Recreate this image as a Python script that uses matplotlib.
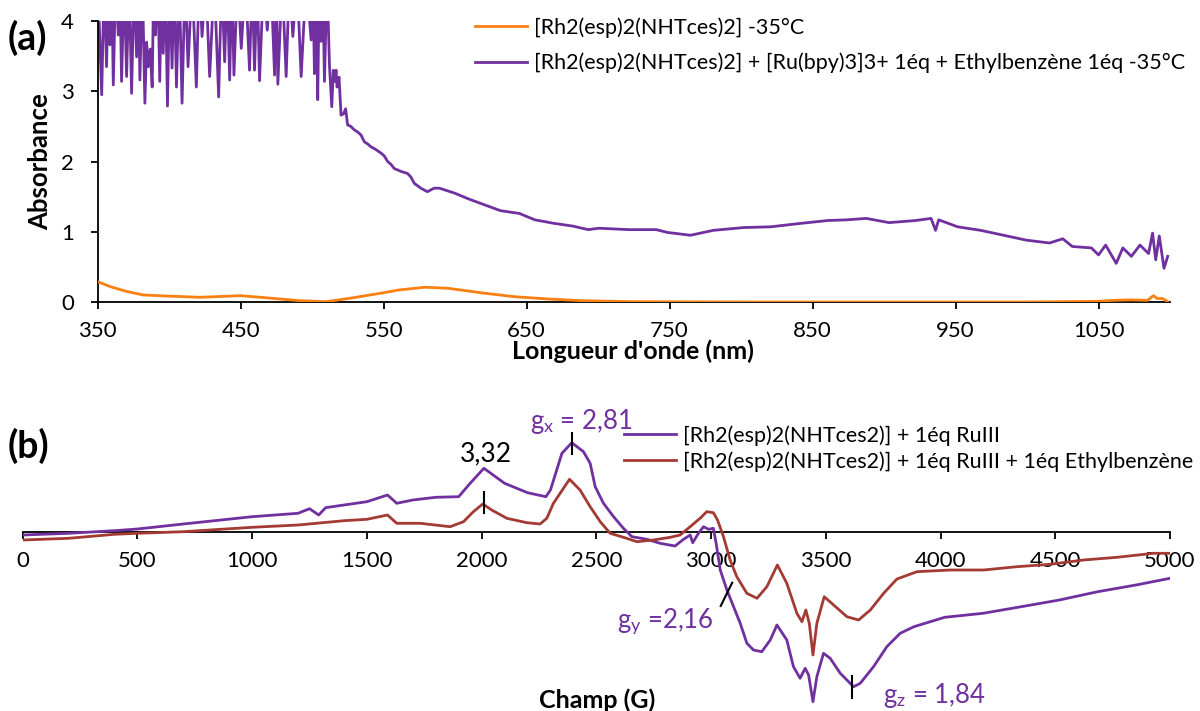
import matplotlib
matplotlib.use("Agg")
import matplotlib.pyplot as plt

plt.rcParams['font.family'] = ['Lato', 'DejaVu Sans']
plt.rcParams['mathtext.fontset'] = 'custom'
plt.rcParams['mathtext.rm'] = 'Lato'
plt.rcParams['mathtext.it'] = 'Lato:italic'

# --- (a) UV-vis : Rh2 seul, -35°C ---
uv_nm_rh = [350, 358.6, 370.2, 381.9, 398.1, 421.4, 450, 467.9, 491.2, 509.8, 526.1,
            549.4, 560.3, 578.9, 595.2, 618.5, 641.7, 665, 688.3, 723.2, 800, 900,
            1000, 1049.4, 1061, 1072.6, 1084.3, 1088.4, 1091, 1094.7, 1098.2]
uv_abs_rh = [0.29, 0.22, 0.15, 0.10, 0.085, 0.067, 0.09, 0.06, 0.019, 0.005, 0.052,
             0.13, 0.17, 0.21, 0.195, 0.13, 0.075, 0.043, 0.019, 0.005, 0.0, 0.0,
             0.0, 0.01, 0.024, 0.03, 0.024, 0.09, 0.05, 0.05, 0.01]

# --- (a) UV-vis : + [Ru(bpy)3]3+ + ethylbenzène ---
uv_nm_ru = [350, 352.8, 354.5, 356.2, 357.4, 358.6, 359.8, 360.9, 362.6, 364.4, 365.5,
            366.7, 368.5, 370.2, 372.0, 373.7, 375.5, 377.2, 378.4, 379.5, 381.2,
            383.0, 384.2, 385.3, 386.7, 388.1, 389.2, 390.4, 392.0, 393.4, 394.6,
            395.8, 397.3, 398.8, 400.4, 402.0, 403.5, 405.1, 407.0, 409.0, 411.1,
            413.2, 416.0, 419.0, 421.0, 423.0, 425.6, 428.3, 431.5, 434.6, 436.7,
            438.8, 440.5, 442.3, 443.8, 445.3, 447.8, 450.4, 453.3, 456.2, 458.0,
            459.7, 461.5, 463.2, 466.0, 468.6, 471.2, 473.7, 474.9, 476.0, 479.0,
            481.8, 484.1, 486.5, 489.4, 492.3, 495.8, 499.3, 500.5, 501.6, 502.8,
            503.9, 505.0, 506.2, 507.4, 508.6, 510.4, 512.1, 513.7, 514.8, 516.0,
            516.7, 517.4, 518.8, 520.2, 522.0, 523.4, 524.8, 527.0, 529.5, 531.8,
            534.1, 536.5, 538.8, 541.1, 544.6, 548.1, 550.4, 552.8, 555.1, 557.4,
            562.0, 566.7, 569.0, 571.4, 576.0, 580.6, 585.3, 589.0, 599.6, 610.3,
            621.0, 631.7, 645.0, 655.7, 669.0, 682.4, 693.1, 700.5, 721.9, 740.6,
            748.6, 764.6, 780.6, 802.0, 820.7, 842.0, 860.8, 874.1, 887.5, 903.5,
            922.2, 932.9, 936.0, 938.2, 951.5, 967.6, 983.6, 999.6, 1015.7, 1025.0,
            1031.7, 1045.0, 1050.0, 1055.0, 1062.4, 1067.0, 1073.0, 1079.0, 1085.0,
            1087.8, 1090.0, 1092.5, 1095.8, 1098.4]
uv_abs_ru = [4.6, 2.95, 4.6, 3.35, 4.6, 3.66, 4.6, 3.09, 4.6, 3.80, 4.6,
             3.14, 4.6, 3.21, 4.6, 2.97, 4.6, 3.49, 4.6, 3.16, 4.6,
             2.83, 3.7, 3.35, 3.6, 3.06, 4.6, 3.80, 4.6, 3.14, 4.6,
             3.54, 4.6, 2.79, 4.6, 3.33, 4.6, 3.06, 4.6, 2.83, 4.6,
             3.35, 4.6, 3.06, 4.6, 3.78, 4.6, 3.21, 4.6, 2.92, 4.6,
             3.42, 4.6, 3.16, 4.6, 3.23, 4.6, 3.61, 4.6, 3.30, 4.6,
             3.30, 4.6, 3.15, 4.6, 3.87, 4.6, 3.23, 4.6, 3.10, 4.6,
             3.21, 4.6, 3.78, 4.6, 3.21, 4.6, 3.73, 4.6, 3.25, 4.6,
             2.88, 4.6, 3.71, 4.6, 3.14, 4.6, 3.37, 2.78, 3.30, 3.14,
             3.30, 3.06, 3.20, 2.66, 2.68, 2.75, 2.52, 2.50, 2.45, 2.42,
             2.38, 2.28, 2.25, 2.21, 2.17, 2.12, 2.08, 2.00, 1.96, 1.90,
             1.86, 1.83, 1.78, 1.69, 1.62, 1.57, 1.62, 1.62, 1.55, 1.46,
             1.38, 1.30, 1.26, 1.17, 1.12, 1.08, 1.03, 1.05, 1.03, 1.03,
             0.99, 0.95, 1.02, 1.06, 1.07, 1.12, 1.16, 1.17, 1.19, 1.13,
             1.16, 1.19, 1.02, 1.17, 1.07, 1.02, 0.95, 0.88, 0.84, 0.90,
             0.79, 0.77, 0.67, 0.81, 0.55, 0.77, 0.65, 0.81, 0.69,
             0.98, 0.60, 0.94, 0.48, 0.65]

# --- (b) RPE : Rh2 + 1éq RuIII ---
epr_G_ru = [0, 200, 400, 500, 700, 1000, 1200, 1250, 1290, 1320, 1400, 1500, 1590,
            1630, 1700, 1800, 1900, 1950, 2010, 2100, 2200, 2280, 2300, 2350, 2393,
            2444, 2473, 2495, 2531, 2575, 2618, 2655, 2720, 2778, 2843, 2880, 2909,
            2920, 2945, 2967, 2989, 3010, 3022, 3040, 3069, 3098, 3127, 3156, 3185,
            3221, 3258, 3287, 3330, 3359, 3388, 3410, 3425, 3444, 3461, 3490, 3519,
            3563, 3621, 3650, 3708, 3766, 3824, 3884, 4018, 4185, 4352, 4518, 4685,
            4852, 5000]
epr_I_ru = [-0.33, -0.16, 0.1, 0.27, 0.77, 1.5, 1.84, 2.3, 1.67, 2.4, 2.67, 3.0, 3.67,
            2.84, 3.17, 3.44, 3.5, 4.84, 6.34, 4.84, 3.9, 3.5, 4.17, 7.84, 8.9,
            8.0, 6.84, 4.5, 2.84, 1.5, 0.34, -0.5, -0.76, -1.16, -1.43, -0.76, -0.33,
            -1.1, -0.16, 0.5, 0.24, 0.34, -1.16, -3.83, -5.83, -7.5, -9.16, -11.16, -11.83,
            -12.0, -10.83, -9.33, -10.83, -13.5, -14.66, -13.66, -14.33, -17.0, -14.5, -12.16, -12.66,
            -14.16, -15.5, -15.16, -13.5, -11.5, -10.16, -9.5, -8.56, -8.16, -7.5, -6.83, -6.0,
            -5.33, -4.66]

# --- (b) RPE : Rh2 + 1éq RuIII + 1éq éthylbenzène ---
epr_G_eb = [0, 200, 400, 500, 700, 1000, 1200, 1400, 1500, 1590, 1630, 1732, 1863,
            1921, 1964, 2005, 2044, 2110, 2197, 2255, 2284, 2313, 2383, 2429, 2473,
            2517, 2560, 2618, 2677, 2749, 2822, 2865, 2909, 2952, 2981, 3010, 3028,
            3054, 3083, 3112, 3156, 3200, 3243, 3289, 3330, 3374, 3396, 3413, 3428,
            3444, 3461, 3493, 3534, 3592, 3643, 3694, 3752, 3810, 3897, 4042, 4188,
            4333, 4478, 4623, 4769, 4928, 5000]
epr_I_eb = [-0.83, -0.66, -0.26, -0.16, 0.0, 0.44, 0.67, 1.1, 1.24, 1.67, 0.84, 0.84, 0.5,
            1.0, 2.0, 2.77, 2.17, 1.34, 0.9, 0.77, 1.34, 2.84, 5.24, 4.17, 2.5,
            1.0, -0.16, -0.56, -1.0, -0.83, -0.56, -0.33, 0.5, 1.34, 2.0, 1.9, 1.17,
            -0.5, -2.83, -4.5, -6.16, -6.66, -5.5, -3.33, -5.16, -8.16, -9.0, -7.83, -9.16,
            -12.33, -9.16, -6.5, -7.33, -8.5, -8.83, -7.83, -6.16, -4.73, -4.0, -3.83, -3.83,
            -3.5, -3.26, -2.83, -2.56, -2.16, -2.16]

c_orange = '#f98012'
c_purple = '#7030a0'
c_red = '#a33a34'

W, H = 1200, 711
fig = plt.figure(figsize=(W / 100, H / 100), dpi=100)

def fx(px):
    return px / W

def fy(py):
    return 1 - py / H

# ===== (a) =====
ax_a = fig.add_axes([fx(97.7), fy(302), fx(1170) - fx(97.7), fy(21) - fy(302)])
ax_a.plot(uv_nm_rh, uv_abs_rh, color=c_orange, lw=2.0,
          label='[Rh2(esp)2(NHTces)2] -35°C', zorder=3)
ax_a.plot(uv_nm_ru, uv_abs_ru, color=c_purple, lw=2.0,
          label='[Rh2(esp)2(NHTces)2] + [Ru(bpy)3]3+ 1éq + Ethylbenzène 1éq -35°C')
ax_a.set_xlim(350, 1100)
ax_a.set_ylim(0, 4)
ax_a.set_xticks([350, 450, 550, 650, 750, 850, 950, 1050])
ax_a.set_yticks([0, 1, 2, 3, 4])
for s in ['top', 'right']:
    ax_a.spines[s].set_visible(False)
for s in ['left', 'bottom']:
    ax_a.spines[s].set_linewidth(1.3)
ax_a.tick_params(direction='out', length=5, width=1.3, labelsize=16)
ax_a.tick_params(axis='x', pad=9)
ax_a.tick_params(axis='y', pad=12)
ax_a.legend(loc='upper left', bbox_to_anchor=(fx(474.5), fy(17)),
            bbox_transform=fig.transFigure, frameon=False, fontsize=15.5,
            handlelength=2.45, handletextpad=0.3, labelspacing=0.7,
            borderpad=0, borderaxespad=0)
fig.text(fx(40), fy(162), 'Absorbance', rotation=90, fontsize=18.5,
         fontweight='bold', ha='center', va='center')
fig.text(fx(633), fy(351), "Longueur d'onde (nm)", fontsize=18,
         fontweight='bold', ha='center', va='center')
fig.text(fx(8), fy(38), '(a)', fontsize=27, fontweight='bold', ha='left', va='center')

# ===== (b) =====
ax_b = fig.add_axes([fx(22.7), fy(710), fx(1170) - fx(22.7), fy(425) - fy(710)])
ax_b.plot(epr_G_ru, epr_I_ru, color=c_purple, lw=2.0,
          label='[Rh2(esp)2(NHTces2)] + 1éq RuIII')
ax_b.plot(epr_G_eb, epr_I_eb, color=c_red, lw=2.0,
          label='[Rh2(esp)2(NHTces2)] + 1éq RuIII + 1éq Ethylbenzène')
ax_b.set_xlim(0, 5000)
ax_b.set_ylim(-17.83, 10.67)
ax_b.set_xticks(range(0, 5001, 500))
ax_b.set_yticks([])
for s in ['top', 'right', 'left']:
    ax_b.spines[s].set_visible(False)
ax_b.spines['bottom'].set_position(('data', 0))
ax_b.spines['bottom'].set_linewidth(1.3)
ax_b.spines['bottom'].set_zorder(0.5)
ax_b.tick_params(axis='x', direction='out', length=5, width=1.3, labelsize=16, pad=9)
ax_b.legend(loc='upper left', bbox_to_anchor=(fx(623.7), fy(425)),
            bbox_transform=fig.transFigure, frameon=False, fontsize=15.5,
            handlelength=2.45, handletextpad=0.3, labelspacing=0.27,
            borderpad=0, borderaxespad=0)

# repères g
ax_b.plot([2010, 2010], [1.9, 4.0], color='black', lw=1.5)
ax_b.plot([2392, 2392], [7.77, 9.9], color='black', lw=1.5)
ax_b.plot([3042, 3092], [-7.43, -5.10], color='black', lw=1.5)
ax_b.plot([3614, 3614], [-14.43, -16.63], color='black', lw=1.5)
ax_b.text(2020, 7.77, '3,32', fontsize=19, ha='center', va='center')
ax_b.text(2211, 11.0, r'g$_\mathregular{x}$ = 2,81', fontsize=18.5, color=c_purple,
          ha='left', va='center', clip_on=False)
ax_b.text(2591, -9.0, r'g$_\mathregular{y}$ =2,16', fontsize=18.5, color=c_purple,
          ha='left', va='center')
ax_b.text(3750, -16.33, r'g$_\mathregular{z}$ = 1,84', fontsize=18.5, color=c_purple,
          ha='left', va='center')
fig.text(fx(597), fy(700), 'Champ (G)', fontsize=18, fontweight='bold',
         ha='center', va='center')
fig.text(fx(8), fy(446), '(b)', fontsize=27, fontweight='bold', ha='left', va='center')

fig.savefig('out.png', dpi=100)
